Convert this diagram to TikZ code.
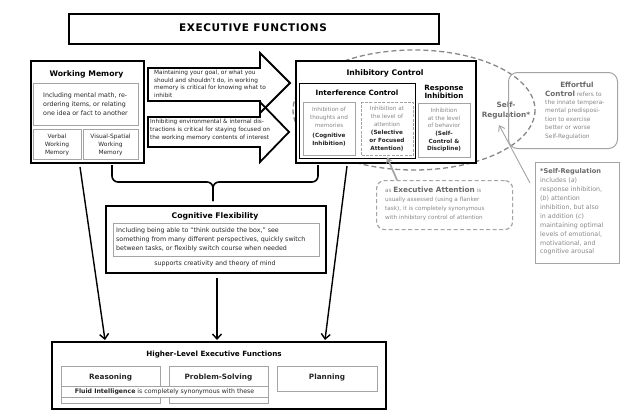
\documentclass[tikz,border=0pt]{standalone}
\usepackage{fontspec}
\setmainfont{DejaVu Sans}
\usetikzlibrary{arrows.meta,calc}
\definecolor{bgray}{HTML}{A4A4A4}
\definecolor{tgray}{HTML}{888888}
\definecolor{dgray}{HTML}{6A6A6A}
\definecolor{ink}{HTML}{262626}
\newcommand\fs[2]{\fontsize{#1}{#2}\selectfont}
\newcommand\bx[6]{\node[#1,anchor=north west,minimum width={#5pt-#3pt},minimum height={#6pt-#4pt}] (#2) at (#3,#4) {};}
\begin{document}
\begin{tikzpicture}[x=1pt,y=-1pt,
  heavy/.style={draw=black,line width=1.9pt,inner sep=0pt,fill=white},
  mid/.style={draw=black,line width=1.3pt,inner sep=0pt},
  lgray/.style={draw=bgray,line width=0.9pt,inner sep=0pt},
  txt/.style={inner sep=0pt,align=center,text=ink,font=\fs{6.3}{9}},
  gtxt/.style={inner sep=0pt,align=center,text=tgray,font=\fs{5.7}{8}},
  ttl/.style={inner sep=0pt,align=center,text=black,font=\fs{7.7}{9}\bfseries},
  conn/.style={line width=1.4pt,-{Straight Barb[length=5pt,width=9pt,line width=1.4pt]}},
  garrow/.style={draw=bgray,line width=0.9pt,-{Straight Barb[length=5pt,width=7pt]}},
]
\useasboundingbox[fill=white] (0,0) rectangle (640,418);

% self-regulation ellipse (behind)
\draw[draw=tgray,line width=1.3pt,dash pattern=on 5pt off 3pt] (414,110) ellipse [x radius=121, y radius=60];

% title
\bx{heavy}{title}{68}{13}{438}{43}
\node[inner sep=0pt,font=\fs{10.5}{12}\bfseries\addfontfeature{LetterSpace=6}] (titletxt) at (253,28) {EXECUTIVE FUNCTIONS};

% working memory
\bx{heavy}{wm}{30}{60}{143}{162}
\node[ttl] (wmt) at (86.5,74) {Working Memory};
\bx{lgray}{wmin}{33}{83}{138}{125}
\node[txt,align=left] (wmtx) at (85.5,104) {Including mental math, re-\\ordering items, or relating\\one idea or fact to another};
\bx{lgray}{vwm}{33}{129}{81}{159}
\node[txt,font=\fs{5.9}{8}] (vwmt) at (57,145) {Verbal\\Working\\Memory};
\bx{lgray}{vswm}{83}{129}{138}{159}
\node[txt,font=\fs{5.9}{8}] (vswmt) at (110.5,145) {Visual-Spatial\\Working\\Memory};

% block arrows
\draw[line width=1.8pt,line join=miter] (148,68) -- (260,68) -- (260,53) -- (290,83) -- (260,113) -- (260,101) -- (148,101) -- cycle;
\draw[line width=1.8pt,line join=miter] (148,117) -- (260,117) -- (260,102) -- (289,132) -- (260,162) -- (260,147) -- (148,147) -- cycle;
\node[txt,align=left,font=\fs{5.8}{7.6},anchor=west] (a1t) at (154,84) {Maintaining your goal, or what you\\should and shouldn't do, in working\\memory is critical for knowing what to\\inhibit};
\node[txt,align=left,font=\fs{5.8}{7.8},anchor=west] (a2t) at (150,130) {Inhibiting environmental \& internal dis-\\tractions is critical for staying focused on\\the working memory contents of interest};

% inhibitory control
\bx{heavy}{ic}{295}{60}{475}{162}
\node[ttl] (ict) at (385,73) {Inhibitory Control};
\bx{mid}{intc}{299}{83}{415}{158}
\node[ttl,font=\fs{7.2}{9}\bfseries] (intct) at (357,93) {Interference Control};
\bx{lgray}{cogb}{303}{102}{355}{155}
\node[gtxt] (cogt) at (329,127) {Inhibition of\\thoughts and\\memories\\[2pt]\textcolor{ink}{\bfseries(Cognitive}\\\textcolor{ink}{\bfseries Inhibition)}};
\bx{draw=bgray,line width=1.3pt,dash pattern=on 3pt off 1.3pt,inner sep=0pt}{selb}{361}{102}{413}{155}
\node[gtxt] (selt) at (387,129) {Inhibition at\\the level of\\attention\\\textcolor{ink}{\bfseries(Selective}\\\textcolor{ink}{\bfseries or Focused}\\\textcolor{ink}{\bfseries Attention)}};
\node[ttl,font=\fs{7.2}{8.6}\bfseries] (rit) at (444,92) {Response\\Inhibition};
\bx{lgray}{rib}{418}{103}{470}{157}
\node[gtxt,font=\fs{5.7}{7.7}] (ritx) at (444,130) {Inhibition\\at the level\\of behavior\\\textcolor{ink}{\bfseries(Self-}\\\textcolor{ink}{\bfseries Control \&}\\\textcolor{ink}{\bfseries Discipline)}};

% self-regulation label
\node[inner sep=0pt,align=center,text=dgray,font=\fs{7.3}{10}\bfseries] (srt) at (506,111) {Self-\\Regulation*};

% effortful control
\bx{draw=bgray,line width=1pt,rounded corners=9pt,inner sep=0pt}{efb}{508}{72}{617}{148}
\node[inner sep=0pt,text=dgray,font=\fs{7.2}{9}\bfseries] (eft1) at (577,85) {Effortful};
\node[inner sep=0pt,anchor=west,align=left,text=tgray,font=\fs{5.9}{8.4}] (eft2) at (545,115) {{\fs{7.2}{9}\bfseries\color{dgray}Control} refers to\\the innate tempera-\\mental predisposi-\\tion to exercise\\better or worse\\Self-Regulation};

% *self-regulation note
\bx{lgray}{srb}{535}{162}{619}{263}
\node[inner sep=0pt,anchor=west,align=left,text=tgray,font=\fs{6.3}{8.9}] (srtx) at (540,212) {{\fs{6.6}{8.9}\bfseries\color{dgray}*Self-Regulation}\\includes (\textit{a})\\response inhibition,\\(\textit{b}) attention\\inhibition, but also\\in addition (\textit{c})\\maintaining optimal\\levels of emotional,\\motivational, and\\cognitive arousal};
\coordinate (srfrom) at (530,183);
\coordinate (srtip) at (499,125);
\draw[garrow] (srfrom) -- (srtip);

% executive attention
\bx{draw=bgray,line width=1.2pt,dash pattern=on 4pt off 2.5pt,rounded corners=8pt,inner sep=0pt}{eab}{376}{180}{512}{229}
\node[inner sep=0pt,anchor=west,align=left,text=tgray,font=\fs{5.7}{8.8}] (eat) at (385,204) {as {\fs{7.3}{9}\bfseries\color{dgray}Executive Attention} is\\usually assessed (using a flanker\\task), it is completely synonymous\\with inhibitory control of attention};
\coordinate (eafrom) at (397,180);
\coordinate (eatip) at (387,157);
\draw[draw=bgray,line width=1.7pt,-{Stealth[length=6pt,width=7pt]}] (eafrom) -- (eatip);

% brace
\coordinate (brl) at (112,165);
\coordinate (brr) at (318,165);
\coordinate (brm) at (213,182);
\coordinate (brt) at (213,201);
\draw[line width=1.6pt,rounded corners=6pt] (brl) |- (brm) -- (brt);
\draw[line width=1.6pt,rounded corners=6pt] (brr) |- (brm) -- (brt);

% cognitive flexibility
\bx{heavy}{cf}{105}{205}{325}{272}
\node[ttl] (cft) at (215,216) {Cognitive Flexibility};
\bx{lgray}{cfin}{113}{223}{319}{256}
\node[txt,align=left,anchor=west] (cftx) at (116,240) {Including being able to ``think outside the box,'' see\\something from many different perspectives, quickly switch\\between tasks, or flexibly switch course when needed};
\node[txt] (cfsup) at (215,263.5) {supports creativity and theory of mind};

% higher-level EF
\bx{heavy}{hl}{51}{341}{385}{408}
\node[ttl,font=\fs{7.2}{9}\bfseries] (hlt) at (214,355) {Higher-Level Executive Functions};
\bx{lgray}{rsb}{61}{366}{160}{403}
\node[ttl,font=\fs{7.3}{9}\bfseries,text=ink] (rst) at (110.5,378) {Reasoning};
\bx{lgray}{psb}{169}{366}{268}{403}
\node[ttl,font=\fs{7.3}{9}\bfseries,text=ink] (pst) at (218.5,378) {Problem-Solving};
\bx{lgray}{plb}{277}{366}{377}{391}
\node[ttl,font=\fs{7.3}{9}\bfseries,text=ink] (plt) at (327,378) {Planning};
\bx{lgray,fill=white}{fib}{61}{386}{268}{397}
\node[txt,font=\fs{6.2}{8}] (fit) at (164.5,391.5) {{\bfseries Fluid Intelligence} is completely synonymous with these};

% connectors to higher-level EF
\coordinate (c1s) at (80,167);
\coordinate (c1e) at (105,340);
\coordinate (c2s) at (217,278);
\coordinate (c2e) at (217,340);
\coordinate (c3s) at (347,166);
\coordinate (c3e) at (325,340);
\draw[conn] (c1s) -- (c1e);
\draw[conn] (c2s) -- (c2e);
\draw[conn] (c3s) -- (c3e);
\end{tikzpicture}
\end{document}
